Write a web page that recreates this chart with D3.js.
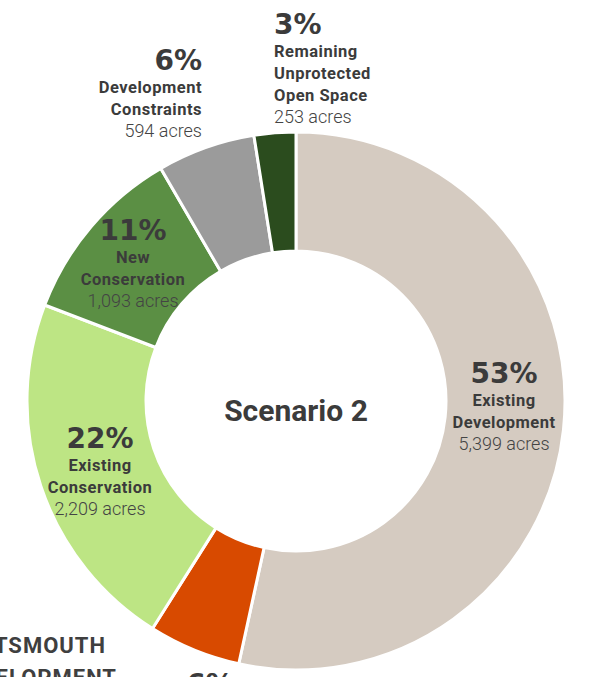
<!DOCTYPE html>
<html>
<head>
<meta charset="utf-8">
<script src="https://cdn.jsdelivr.net/npm/d3@7"></script>
<style>
  html, body { margin: 0; padding: 0; background: #ffffff; }
  svg { display: block; }
</style>
</head>
<body>
<svg id="chart" width="589" height="677"></svg>
<script>
// Land use breakdown, Scenario 2 (acres)
const categories = [
  "Existing Development",
  "New Development",
  "Existing Conservation",
  "New Conservation",
  "Development Constraints",
  "Remaining Unprotected Open Space"
];
const acres = [5399, 560, 2209, 1093, 594, 253];
const pctLabels = ["53%", "6%", "22%", "11%", "6%", "3%"];
const nameLines = [
  ["Existing", "Development"],
  [],
  ["Existing", "Conservation"],
  ["New", "Conservation"],
  ["Development", "Constraints"],
  ["Remaining", "Unprotected", "Open Space"]
];
const acreLabels = ["5,399 acres", "", "2,209 acres", "1,093 acres", "594 acres", "253 acres"];
const colors = ["#d5cbc1", "#d84a00", "#bde584", "#5b8f44", "#9b9b9b", "#2b4c1e"];

// Label block placement: anchor, x, baseline of the percentage line
const placement = {
  "Existing Development":             { anchor: "middle", x: 504, y: 383 },
  "New Development":                  { anchor: "middle", x: 210, y: 694 },
  "Existing Conservation":            { anchor: "middle", x: 100, y: 448 },
  "New Conservation":                 { anchor: "middle", x: 133, y: 240 },
  "Development Constraints":          { anchor: "end",    x: 202, y: 70 },
  "Remaining Unprotected Open Space": { anchor: "start",  x: 274, y: 34 }
};

const svg = d3.select("#chart");
const cx = 296, cy = 401;
const outerR = 269, innerR = 150;
const textDark = "#3b3b3b";

const data = categories.map((c, i) => ({
  category: c, acres: acres[i], pct: pctLabels[i],
  lines: nameLines[i], acreText: acreLabels[i], color: colors[i]
}));

const pie = d3.pie().sort(null).value(d => d.acres)
  .startAngle(0).endAngle(2 * Math.PI);
const arc = d3.arc().innerRadius(innerR).outerRadius(outerR);

const g = svg.append("g").attr("transform", `translate(${cx},${cy})`);
g.selectAll("path.slice")
  .data(pie(data))
  .join("path")
  .attr("class", "slice")
  .attr("d", arc)
  .attr("fill", d => d.data.color)
  .attr("stroke", "#ffffff")
  .attr("stroke-width", 3)
  .attr("stroke-linejoin", "miter");

// Centre title
svg.append("text")
  .attr("x", cx).attr("y", 421)
  .attr("text-anchor", "middle")
  .attr("font-family", "Roboto, sans-serif")
  .attr("font-weight", 700)
  .attr("font-size", 30)
  .attr("fill", textDark)
  .text("Scenario 2");

// Slice labels
const labels = svg.selectAll("g.label")
  .data(data)
  .join("g")
  .attr("class", "label")
  .attr("text-anchor", d => placement[d.category].anchor);

labels.each(function(d) {
  const p = placement[d.category];
  const sel = d3.select(this);
  let y = p.y;
  sel.append("text")
    .attr("x", p.x).attr("y", y)
    .attr("font-family", "'DejaVu Sans', sans-serif")
    .attr("font-weight", 700)
    .attr("font-size", 28)
    .attr("fill", textDark)
    .text(d.pct);
  y += 23;
  d.lines.forEach(line => {
    sel.append("text")
      .attr("x", p.x).attr("y", y)
      .attr("font-family", "Roboto, sans-serif")
      .attr("font-weight", 700)
      .attr("font-size", 16.5)
      .attr("letter-spacing", 0.5)
      .attr("fill", textDark)
      .text(line);
    y += 22;
  });
  if (d.acreText) {
    sel.append("text")
      .attr("x", p.x).attr("y", y)
      .attr("font-family", "Roboto, sans-serif")
      .attr("font-weight", 300)
      .attr("font-size", 18)
      .attr("fill", "#444444")
      .text(d.acreText);
  }
});

// Side heading
const heading = svg.append("g")
  .attr("text-anchor", "end")
  .attr("font-family", "Roboto, sans-serif")
  .attr("font-weight", 700)
  .attr("font-size", 22)
  .attr("letter-spacing", 1)
  .attr("fill", "#3f3f3f");
heading.append("text").attr("x", 106).attr("y", 653).text("PORTSMOUTH");
heading.append("text").attr("x", 117).attr("y", 685).text("DEVELOPMENT");
</script>
</body>
</html>
